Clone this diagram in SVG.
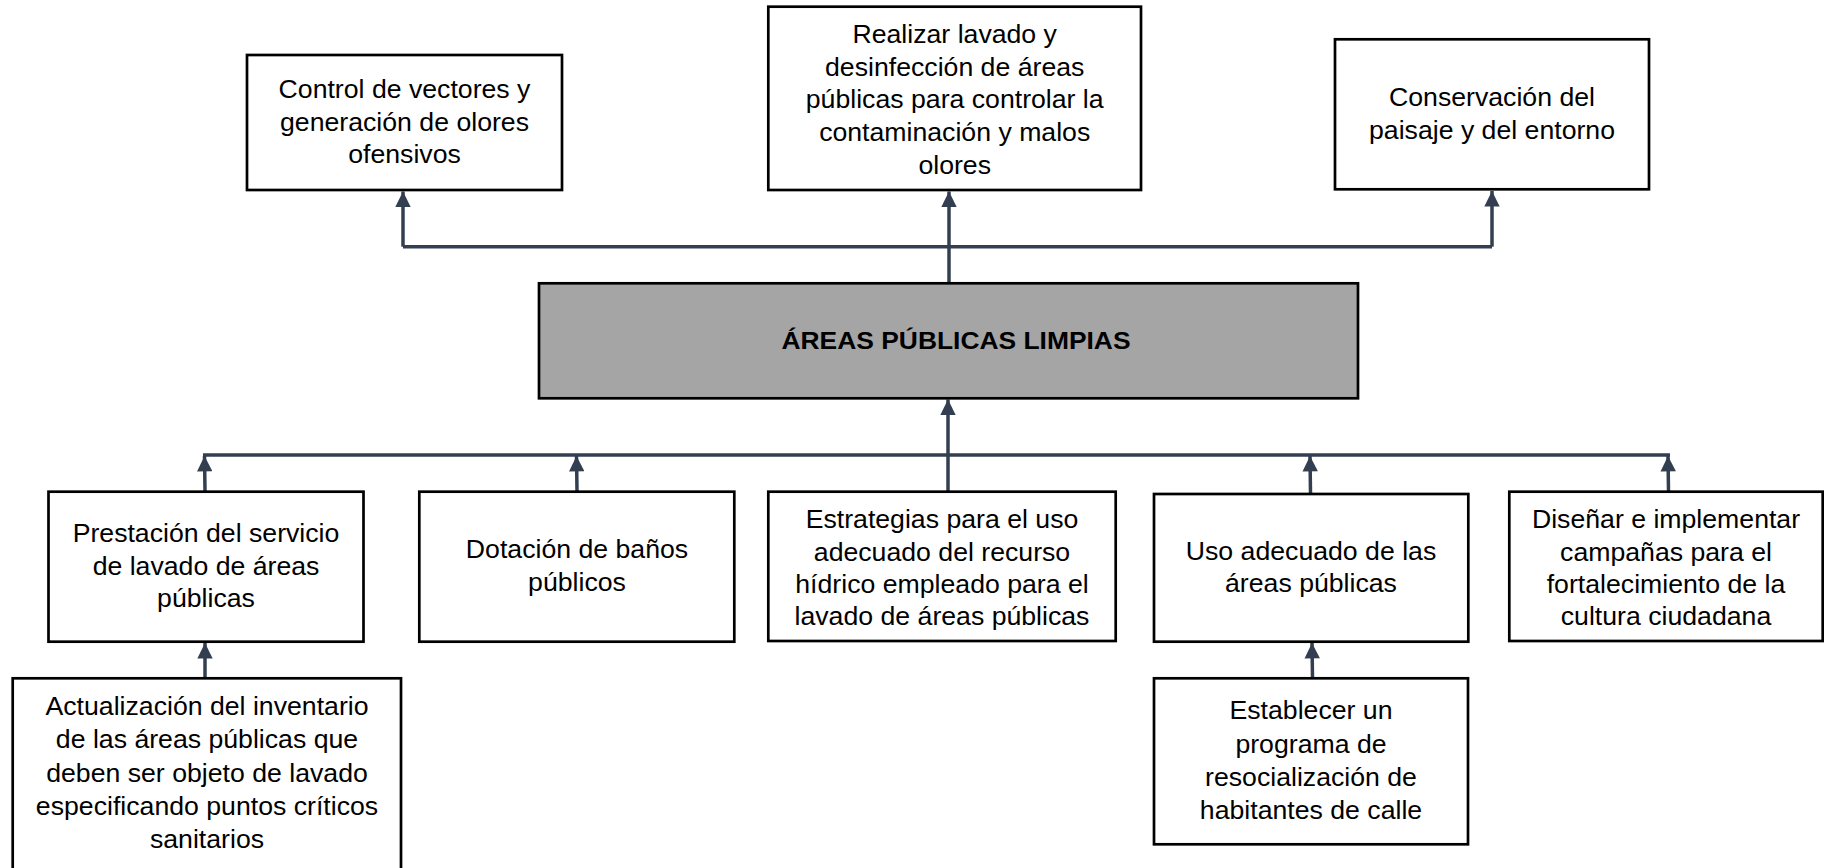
<svg xmlns="http://www.w3.org/2000/svg" width="1824" height="868" viewBox="0 0 1824 868">
<style>
.box{fill:#ffffff;stroke:#000000;stroke-width:2.7}
.main{fill:#A5A5A5;stroke:#000000;stroke-width:2.7}
.t{font-family:"Liberation Sans",Arial,sans-serif;font-size:26.67px;fill:#000000;text-anchor:middle}
.tb{font-family:"Liberation Sans",Arial,sans-serif;font-size:24px;font-weight:bold;fill:#000000;text-anchor:middle}
.c{fill:none;stroke:#333F50;stroke-width:3.5}
</style>
<defs>
<marker id="ah" viewBox="0 0 10 10" refX="10" refY="5" markerWidth="4.6" markerHeight="4.4" markerUnits="strokeWidth" orient="auto">
<path d="M0,0 L10,5 L0,10 Z" fill="#333F50"/>
</marker>
</defs>
<rect width="1824" height="868" fill="#ffffff"/>
<g id="connectors">
<polyline class="c" points="403,246.7 1492,246.7"/>
<line class="c" x1="403" y1="246.7" x2="403" y2="191.5" marker-end="url(#ah)"/>
<line class="c" x1="949" y1="283" x2="949" y2="191.5" marker-end="url(#ah)"/>
<line class="c" x1="1492" y1="246.7" x2="1492" y2="191" marker-end="url(#ah)"/>
<polyline class="c" points="203,455 1670,455"/>
<line class="c" x1="948" y1="491" x2="948" y2="399.5" marker-end="url(#ah)"/>
<line class="c" x1="205" y1="491" x2="204.5" y2="456" marker-end="url(#ah)"/>
<line class="c" x1="577" y1="491" x2="576.5" y2="456" marker-end="url(#ah)"/>
<line class="c" x1="1310.5" y1="493" x2="1310" y2="456" marker-end="url(#ah)"/>
<line class="c" x1="1668.5" y1="491" x2="1668" y2="456" marker-end="url(#ah)"/>
<line class="c" x1="205" y1="677.5" x2="205" y2="643" marker-end="url(#ah)"/>
<line class="c" x1="1312.5" y1="677.5" x2="1312" y2="643" marker-end="url(#ah)"/>
</g>
<g id="n-control">
<rect class="box" x="247" y="55" width="315" height="135"/>
<text class="t"><tspan x="404.5" y="98">Control de vectores y</tspan><tspan x="404.5" y="131">generación de olores</tspan><tspan x="404.5" y="163">ofensivos</tspan></text>
</g>
<g id="n-realizar">
<rect class="box" x="768.3" y="6.7" width="372.7" height="183.3"/>
<text class="t"><tspan x="954.7" y="43">Realizar lavado y</tspan><tspan x="954.7" y="75.5">desinfección de áreas</tspan><tspan x="954.7" y="108.3">públicas para controlar la</tspan><tspan x="954.7" y="141">contaminación y malos</tspan><tspan x="954.7" y="173.5">olores</tspan></text>
</g>
<g id="n-conservacion">
<rect class="box" x="1335" y="39.3" width="314" height="150"/>
<text class="t"><tspan x="1492" y="106">Conservación del</tspan><tspan x="1492" y="138.5">paisaje y del entorno</tspan></text>
</g>
<g id="n-main">
<rect class="main" x="539" y="283.3" width="819" height="115"/>
<text class="tb" x="956" y="349.3" textLength="349" lengthAdjust="spacingAndGlyphs">ÁREAS PÚBLICAS LIMPIAS</text>
</g>
<g id="n-prestacion">
<rect class="box" x="48.5" y="491.7" width="315" height="150"/>
<text class="t"><tspan x="206" y="541.7">Prestación del servicio</tspan><tspan x="206" y="574.5">de lavado de áreas</tspan><tspan x="206" y="606.7">públicas</tspan></text>
</g>
<g id="n-dotacion">
<rect class="box" x="419.3" y="491.7" width="315" height="150"/>
<text class="t"><tspan x="577" y="558.3">Dotación de baños</tspan><tspan x="577" y="590.7">públicos</tspan></text>
</g>
<g id="n-estrategias">
<rect class="box" x="768.3" y="491.7" width="347.4" height="149.3"/>
<text class="t"><tspan x="942" y="528.3">Estrategias para el uso</tspan><tspan x="942" y="560.7">adecuado del recurso</tspan><tspan x="942" y="592.9">hídrico empleado para el</tspan><tspan x="942" y="625">lavado de áreas públicas</tspan></text>
</g>
<g id="n-uso">
<rect class="box" x="1154" y="494" width="314.3" height="147.7"/>
<text class="t"><tspan x="1311" y="560">Uso adecuado de las</tspan><tspan x="1311" y="591.5">áreas públicas</tspan></text>
</g>
<g id="n-disenar">
<rect class="box" x="1509.3" y="491.7" width="313.4" height="149.3"/>
<text class="t"><tspan x="1666" y="528.3">Diseñar e implementar</tspan><tspan x="1666" y="560.7">campañas para el</tspan><tspan x="1666" y="593">fortalecimiento de la</tspan><tspan x="1666" y="625">cultura ciudadana</tspan></text>
</g>
<g id="n-actualizacion">
<rect class="box" x="12.7" y="678.3" width="388.3" height="200"/>
<text class="t"><tspan x="207" y="715">Actualización del inventario</tspan><tspan x="207" y="748.3">de las áreas públicas que</tspan><tspan x="207" y="781.7">deben ser objeto de lavado</tspan><tspan x="207" y="815">especificando puntos críticos</tspan><tspan x="207" y="848.3">sanitarios</tspan></text>
</g>
<g id="n-establecer">
<rect class="box" x="1154" y="678.3" width="314" height="166"/>
<text class="t"><tspan x="1311" y="719.3">Establecer un</tspan><tspan x="1311" y="752.7">programa de</tspan><tspan x="1311" y="786">resocialización de</tspan><tspan x="1311" y="819.3">habitantes de calle</tspan></text>
</g>
</svg>
